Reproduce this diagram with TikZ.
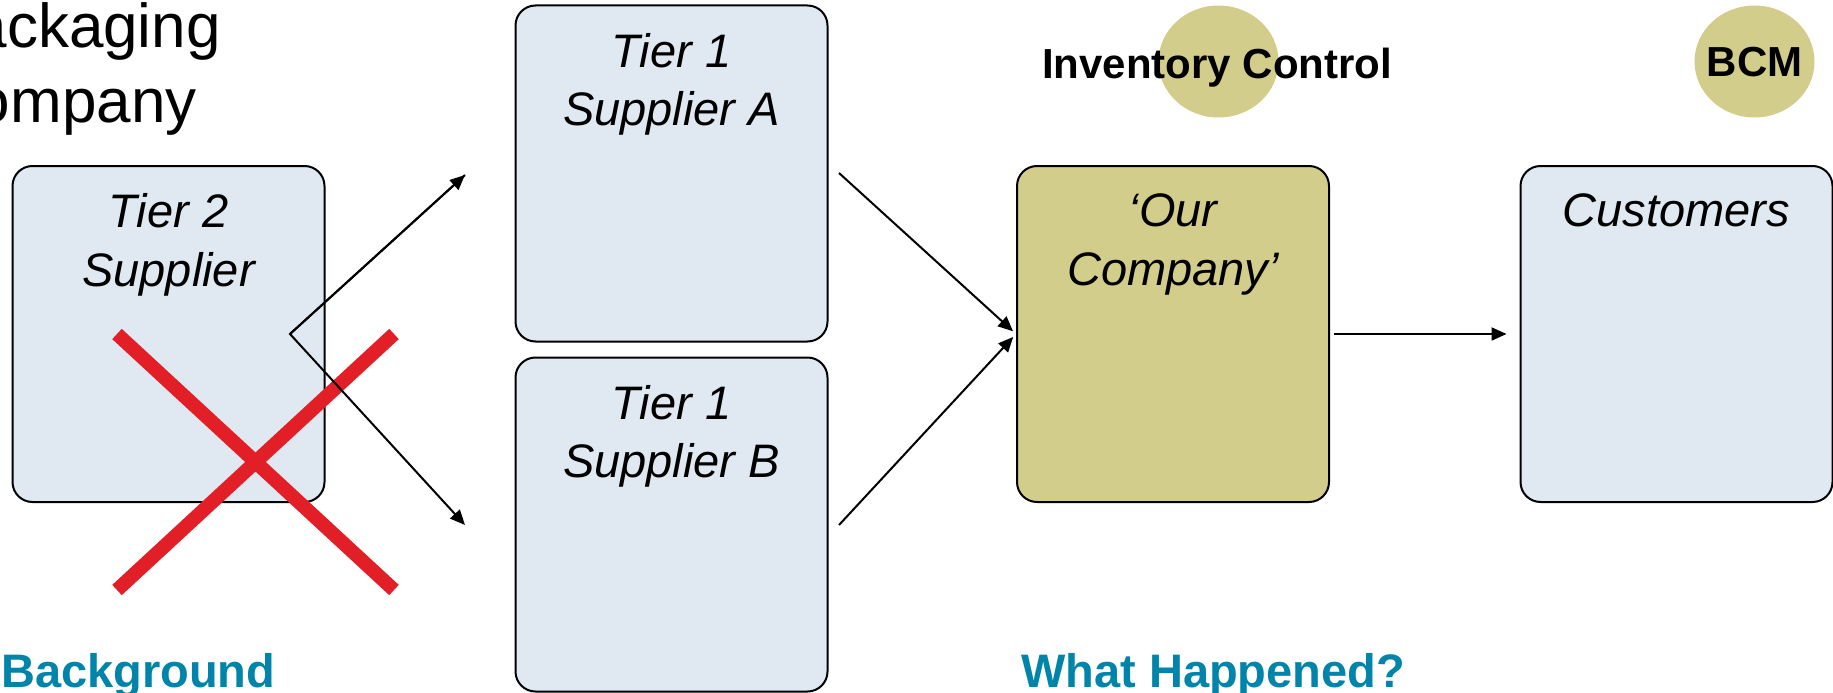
\documentclass[tikz,border=0pt]{standalone}
\usepackage{fontspec}
\setmainfont{Liberation Sans}
\usetikzlibrary{arrows.meta,shapes.geometric}
\definecolor{cardblue}{HTML}{E0E9F1}
\definecolor{cardolive}{HTML}{D3CD8B}
\definecolor{headteal}{HTML}{0084A9}
\definecolor{crossred}{HTML}{E21E26}
\begin{document}
\begin{tikzpicture}[x=1pt,y=-1pt,
  card/.style={draw=black, line width=2pt, rounded corners=20pt,
    minimum width=312pt, minimum height=336pt, inner sep=0pt},
  bluecard/.style={card, fill=cardblue},
  olivecard/.style={card, fill=cardolive},
  cardtext/.style={anchor=north, align=center, inner sep=0pt,
    font=\itshape\fontsize{47}{58.5}\selectfont},
  badge/.style={ellipse, fill=cardolive, draw=none, inner sep=0pt,
    minimum width=120pt, minimum height=112pt},
  tag/.style={anchor=base, inner sep=0pt, font=\bfseries\fontsize{42}{50}\selectfont},
  heading/.style={anchor=base west, inner sep=0pt, text=headteal,
    font=\bfseries\fontsize{47}{56}\selectfont},
  flow/.style={-{Triangle[length=15pt,width=13pt]}, line width=2pt},
  strike/.style={draw=crossred, line width=14pt}
]
\useasboundingbox (0,0) rectangle (1833,693);

% title, partly running off the left edge
\node[anchor=north west, align=left, inner sep=0pt,
  font=\fontsize{62}{75}\selectfont] (title) at (-69,2.5) {Packaging\\Company};

% badges above the company and the customers
\node[badge] (invbadge) at (1218.5,61.5) {};
\node[tag] (invtag) at (1217,78) {Inventory Control};
\node[badge] (bcmbadge) at (1754.5,61.5) {};
\node[tag] (bcmtag) at (1754.5,77) {BCM};

% supply chain cards
\node[bluecard] (tier2) at (168.5,334) {};
\node[bluecard] (tier1a) at (671.5,173.5) {};
\node[bluecard, minimum height=334pt] (tier1b) at (671.5,524.5) {};
\node[olivecard] (ours) at (1173,334) {};
\node[bluecard] (cust) at (1676.5,334) {};

\node[cardtext] (tier2txt) at ([yshift=-28.5pt]tier2.north) {Tier 2\\Supplier};
\node[cardtext] (tier1atxt) at ([yshift=-28.5pt]tier1a.north) {Tier 1\\Supplier A};
\node[cardtext] (tier1btxt) at ([yshift=-28.5pt]tier1b.north) {Tier 1\\Supplier B};
\node[cardtext] (ourstxt) at ([yshift=-28.5pt]ours.north) {‘Our\\Company’};
\node[cardtext] (custtxt) at ([yshift=-28.5pt]cust.north) {Customers};

% the failed tier 2 supplier is struck out
\coordinate (xa) at (117,334);
\coordinate (xb) at (394,590);
\coordinate (xc) at (394,334);
\coordinate (xd) at (117,590);
\draw[strike] (xa) -- (xb);
\draw[strike] (xc) -- (xd);

% flows
\coordinate (split) at (290,334);
\coordinate (toa) at (465,175);
\coordinate (tob) at (465,525);
\coordinate (froma) at (839,173);
\coordinate (fromb) at (839,525);
\draw[flow, line join=miter] (toa) -- (split) -- (tob);
\draw[flow] (split) -- (toa);
\draw[flow, shorten >=4pt] (froma) -- (ours.west);
\draw[flow, shorten >=4pt] (fromb) -- (ours.west);
\draw[flow, shorten <=4pt, shorten >=13pt] (ours.east) -- (cust.west);

% section headings
\node[heading] (bg) at (1,687) {Background};
\node[heading] (what) at (1021,687) {What Happened?};
\end{tikzpicture}
\end{document}
